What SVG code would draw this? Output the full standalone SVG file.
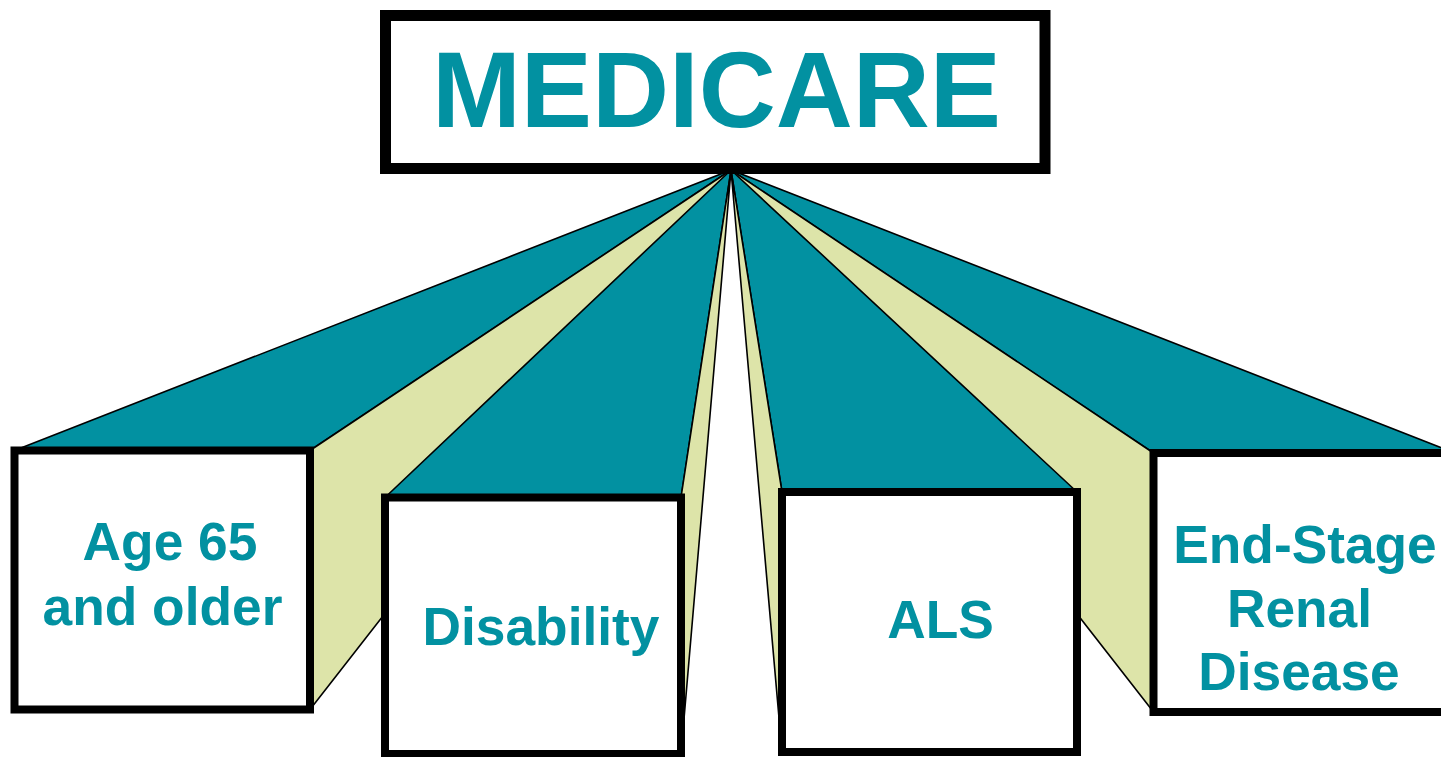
<svg xmlns="http://www.w3.org/2000/svg" width="1441" height="757" viewBox="0 0 1441 757">
  <style>
    .top { fill: #0291a1; stroke: #000; stroke-width: 1.6; stroke-linejoin: round; }
    .side { fill: #dde4a9; stroke: #000; stroke-width: 1.6; stroke-linejoin: round; }
    .front { fill: #fff; stroke: #000; stroke-width: 8; }
    .label { font-family: "Liberation Sans", Arial, sans-serif; font-weight: bold; font-size: 53.3px; fill: #0291a1; text-anchor: middle; }
    .title { font-family: "Liberation Sans", Arial, sans-serif; font-weight: bold; font-size: 106.7px; fill: #0291a1; text-anchor: middle; }
  </style>

  <rect width="1441" height="757" fill="#fff"/>

  <!-- extruded faces, all converging on the vanishing point at (731,170) -->
  <g id="connectors">
    <g id="faces-age">
      <polygon class="top" points="731,170 14.5,450.5 310,450.5"/>
      <polygon class="side" points="731,170 310,450.5 310,709.5"/>
    </g>
    <g id="faces-esrd">
      <polygon class="top" points="731,170 1153.5,453 1455,453"/>
      <polygon class="side" points="731,170 1153.5,453 1153.5,712"/>
    </g>
  </g>

  <g id="node-age">
    <rect class="front" x="14.5" y="450.5" width="295.5" height="259"/>
    <text class="label" x="170" y="560">Age 65</text>
    <text class="label" x="162.5" y="625">and older</text>
  </g>

  <g id="node-esrd">
    <rect class="front" x="1153.5" y="453" width="301.5" height="259"/>
    <text class="label" x="1305" y="563">End-Stage</text>
    <text class="label" x="1299.5" y="627">Renal</text>
    <text class="label" x="1299" y="690">Disease</text>
  </g>

  <g id="connectors-inner">
    <g id="faces-disability">
      <polygon class="top" points="731,170 385,497.5 681,497.5"/>
      <polygon class="side" points="731,170 681,497.5 681,754"/>
    </g>
    <g id="faces-als">
      <polygon class="top" points="731,170 782,492 1077,492"/>
      <polygon class="side" points="731,170 782,492 782,752"/>
    </g>
  </g>

  <g id="node-disability">
    <rect class="front" x="385" y="497.5" width="296" height="256.5"/>
    <text class="label" x="541" y="645">Disability</text>
  </g>

  <g id="node-als">
    <rect class="front" x="782" y="492" width="295" height="260"/>
    <text class="label" x="940.5" y="638">ALS</text>
  </g>

  <g id="node-medicare">
    <rect x="385.5" y="15.5" width="659.5" height="153" fill="#fff" stroke="#000" stroke-width="11"/>
    <text class="title" x="716.5" y="127">MEDICARE</text>
  </g>
</svg>
